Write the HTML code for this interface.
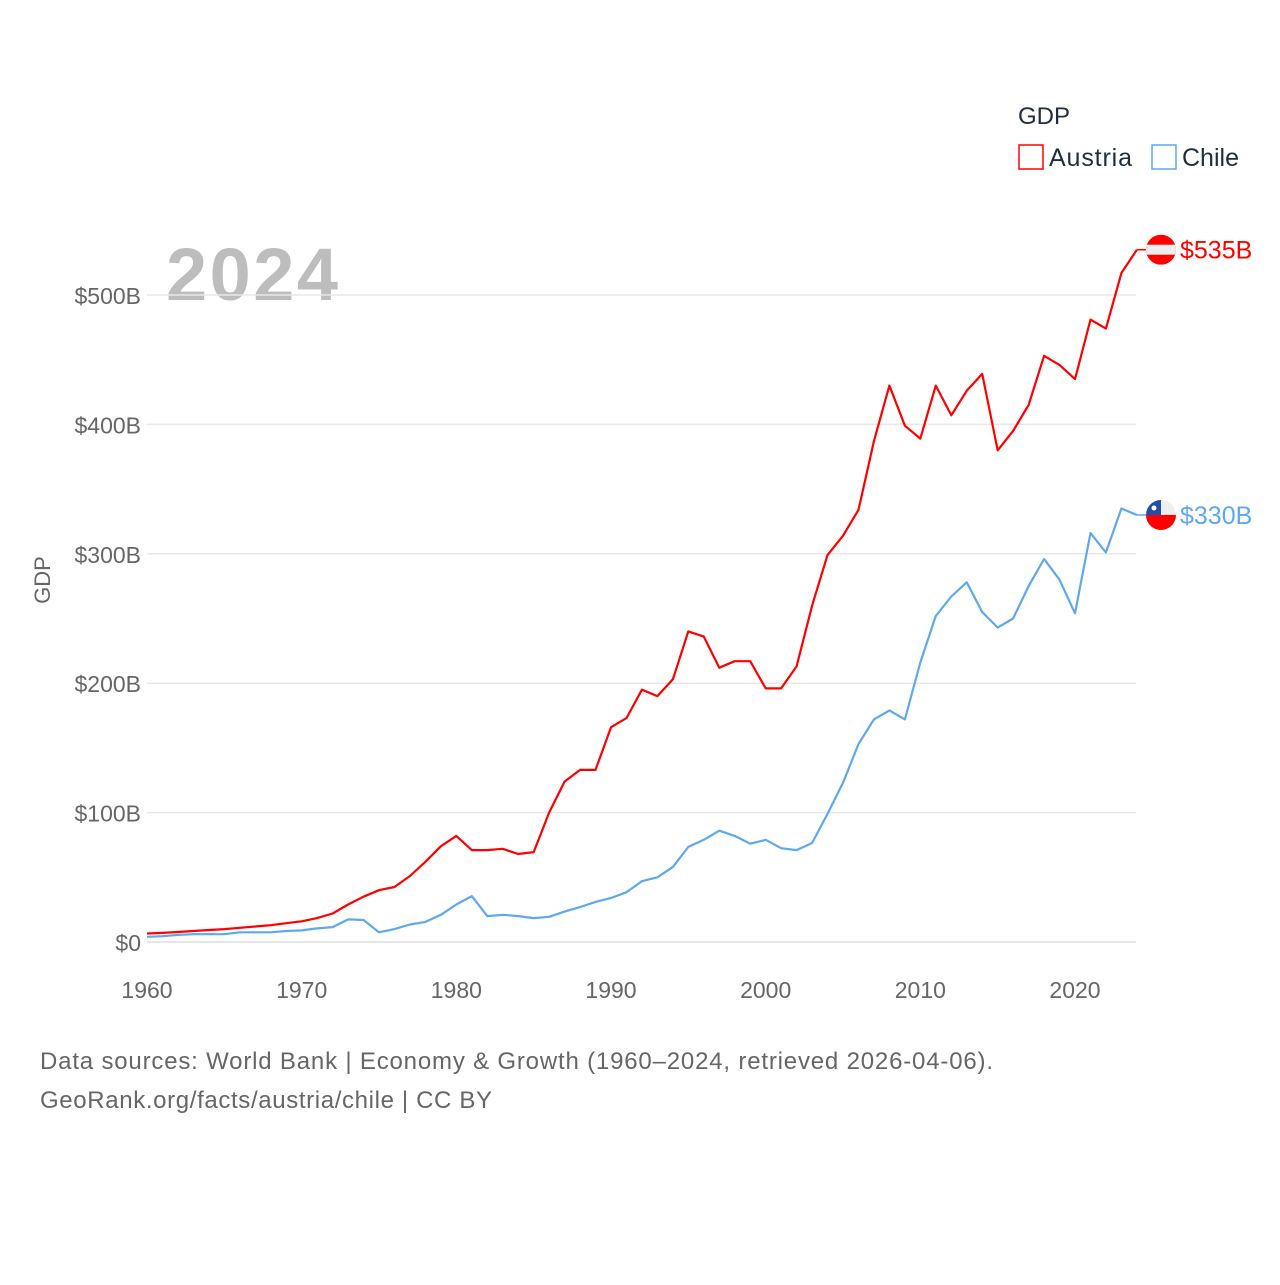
<!DOCTYPE html>
<html><head><meta charset="utf-8"><style>
body{margin:0;background:#fff;font-family:"Liberation Sans",sans-serif}
svg text{font-family:"Liberation Sans",sans-serif}
</style></head><body>
<svg width="1280" height="1280" id="chart">
<text x="1018" y="124" font-size="24" fill="#1f2d3d">GDP</text>
<g><rect x="1019" y="145" width="24" height="24" fill="none" stroke="#ff0000" stroke-width="1.5"/><text x="1049" y="166" font-size="25" fill="#1f2d3d" textLength="83" lengthAdjust="spacing">Austria</text></g>
<g><rect x="1152" y="145" width="24" height="24" fill="none" stroke="#5fa8ee" stroke-width="1.5"/><text x="1182" y="166" font-size="25" fill="#1f2d3d">Chile</text></g>
<text x="166" y="300" font-size="74" font-weight="bold" fill="#bdbdbd" textLength="172" lengthAdjust="spacing">2024</text>
<text transform="translate(50,580) rotate(-90)" text-anchor="middle" font-size="22" fill="#666">GDP</text>
<g id="grid"></g><g id="lines"></g><g id="ends"></g>
<text x="40" y="1069" font-size="24" fill="#666" textLength="953" lengthAdjust="spacing">Data sources: World Bank | Economy &amp; Growth (1960–2024, retrieved 2026-04-06).</text>
<text x="40" y="1108" font-size="24" fill="#666" textLength="452" lengthAdjust="spacing">GeoRank.org/facts/austria/chile | CC BY</text>
</svg>
<script>
const years=[];for(let y=1960;y<=2024;y++)years.push(y);
const austria=[6.6,7,7.7,8.5,9.3,10,11,12,13,14.5,16,18.5,22,29,35,40,42.5,51,62,74,82,71,71,72,68,69.5,100,124,133,133,166,173,195,190,203,240,236,212,217,217,196,196,213,260,299,314,334,387,430,399,389,430,407,426,439,380,395,415,453,446,435,481,474,517,535];
const chile=[4,4.5,5.5,6,6,6,7.5,7.5,7.5,8.5,9,10.5,11.5,17.5,17,7.5,10,13.5,15.5,21,29,35.5,20,21,20,18.5,19.5,23.5,27,31,34,38.5,47,50,58,73.5,79,86,82,76,79,72.5,71,76.5,99,123,153,172,179,172,216,252,267,278,255,243,250,275,296,280,254,316,301,335,330];
const yTicks=[0,100,200,300,400,500];
const yTickLabels=["$0","$100B","$200B","$300B","$400B","$500B"];
const xTicks=[1960,1970,1980,1990,2000,2010,2020];
const endLabels=["$535B","$330B"];
const NS="http://www.w3.org/2000/svg";
const X=y=>147+(y-1960)*(928/60);
const Y=v=>942-v*(647/500);
function mk(t,a,p){const e=document.createElementNS(NS,t);for(const k in a)e.setAttribute(k,a[k]);p.appendChild(e);return e;}
const grid=document.getElementById('grid');
yTicks.forEach((v,i)=>{
 const l=mk('line',{x1:147,x2:1136,y1:Y(v),y2:Y(v),stroke:v===0?'#ddd':'#e8e8e8','stroke-width':1.5},grid);
 
 
 const t=mk('text',{x:141,y:Y(v)+9,'text-anchor':'end','font-size':23,fill:'#666'},grid);
 t.textContent=yTickLabels[i];
 
 
});
xTicks.forEach(v=>{
 const t=mk('text',{x:X(v),y:998,'text-anchor':'middle','font-size':23,fill:'#666'},grid);
 t.textContent=v;
 
 
});
const lines=document.getElementById('lines'),ends=document.getElementById('ends');
[[austria,'#ff0000','austria'],[chile,'#5fa8ee','chile']].forEach(([d,c,n],i)=>{
 const pts=d.map((v,j)=>X(years[j]).toFixed(1)+','+Y(v).toFixed(1));
 const p=mk('polyline',{points:pts.join(' '),fill:'none',stroke:c,'stroke-width':2.2,'stroke-linejoin':'round'},lines);
 
 
 const last=d[d.length-1],ly=Y(last),lx=X(years[years.length-1]);
 mk('line',{x1:lx,x2:1148,y1:ly,y2:ly,stroke:c,'stroke-width':1.5},ends);
 const g=mk('g',{},ends);
 
 
 const cx=1161;
 const clip=mk('clipPath',{id:'c'+n},g);mk('circle',{cx:cx,cy:ly,r:15},clip);
 const gg=mk('g',{'clip-path':'url(#c'+n+')'},g);
 if(n==='austria'){mk('rect',{x:cx-15,y:ly-15,width:30,height:30,fill:'#ff0000'},gg);mk('rect',{x:cx-15,y:ly-5,width:30,height:10,fill:'#eee'},gg);}
 else{mk('rect',{x:cx-15,y:ly-15,width:30,height:15,fill:'#eee'},gg);mk('rect',{x:cx-15,y:ly,width:30,height:15,fill:'#ff0000'},gg);mk('rect',{x:cx-15,y:ly-15,width:15,height:15,fill:'#1f4fa8'},gg);mk('circle',{cx:cx-7,cy:ly-7,r:2.5,fill:'#fff'},gg);}
 const t=mk('text',{x:1180,y:ly+9,'font-size':25,fill:c},ends);
 t.textContent=endLabels[i];
 
 
});
</script>
</body></html>
